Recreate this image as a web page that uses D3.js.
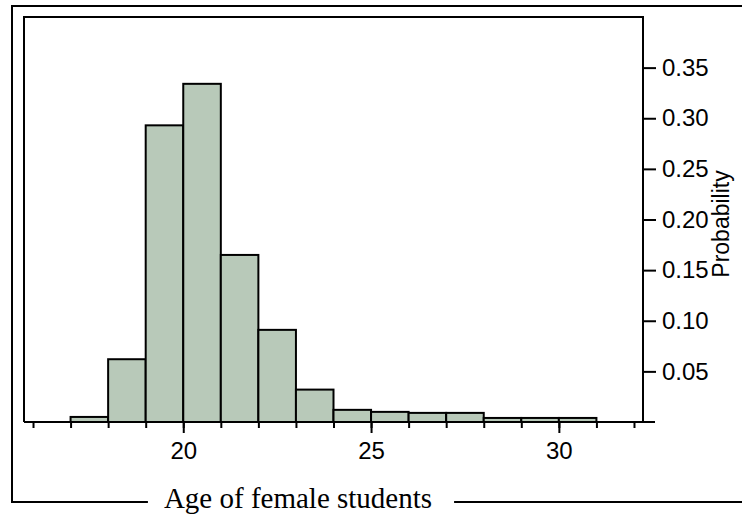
<!DOCTYPE html>
<html>
<head>
<meta charset="utf-8">
<script src="https://cdn.jsdelivr.net/npm/d3@7"></script>
<style>
  body { margin: 0; background: #fff; }
  svg { display: block; }
</style>
</head>
<body>
<svg id="chart"></svg>
<script>
// Histogram data: one-year bins starting at each age
const binStarts = [17, 18, 19, 20, 21, 22, 23, 24, 25, 26, 27, 28, 29, 30];
const probability = [0.005, 0.062, 0.293, 0.334, 0.165, 0.091, 0.032, 0.012, 0.010, 0.009, 0.009, 0.004, 0.004, 0.004];

// Axis ticks
const xMinorTicks = [16, 17, 18, 19, 20, 21, 22, 23, 24, 25, 26, 27, 28, 29, 30, 31, 32];
const xMajorTicks = [20, 25, 30];
const yTicks = [0.05, 0.10, 0.15, 0.20, 0.25, 0.30, 0.35];

const width = 742;
const height = 516;

const svg = d3.select('#chart')
    .attr('width', width)
    .attr('height', height);

const x = d3.scaleLinear().domain([15.76, 32.24]).range([24, 643]);
const y = d3.scaleLinear().domain([0, 0.4]).range([422, 17]);

// Bars
svg.append('g')
    .selectAll('rect')
    .data(binStarts)
    .join('rect')
    .attr('x', d => x(d))
    .attr('y', (d, i) => y(probability[i]))
    .attr('width', d => x(d + 1) - x(d))
    .attr('height', (d, i) => y(0) - y(probability[i]))
    .attr('fill', '#b8c9b9')
    .attr('stroke', '#000')
    .attr('stroke-width', 2);

// Plot frame (top, left, right) and the x axis line
const [x0, x1] = x.range();
const [yb, yt] = y.range();
svg.append('path')
    .attr('d', `M${x0},${yb} V${yt} H${x1} V${yb}`)
    .attr('fill', 'none')
    .attr('stroke', '#000')
    .attr('stroke-width', 2);
svg.append('line')
    .attr('x1', x0).attr('x2', x1 + 12)
    .attr('y1', yb).attr('y2', yb)
    .attr('stroke', '#000')
    .attr('stroke-width', 2);

// x ticks: minor and major
const xMinor = svg.append('g')
    .attr('transform', `translate(0,${yb})`)
    .call(d3.axisBottom(x).tickValues(xMinorTicks).tickSize(6).tickFormat(''));
const xMajor = svg.append('g')
    .attr('transform', `translate(0,${yb})`)
    .call(d3.axisBottom(x).tickValues(xMajorTicks).tickSize(11).tickPadding(9).tickFormat(d3.format('d')));

// y axis on the right
const yAxis = svg.append('g')
    .attr('transform', `translate(${x1},0)`)
    .call(d3.axisRight(y).tickValues(yTicks).tickSize(13).tickPadding(6).tickFormat(d3.format('.2f')));

[xMinor, xMajor, yAxis].forEach(g => {
    g.select('.domain').remove();
    g.selectAll('.tick line').attr('stroke', '#000').attr('stroke-width', 2);
    g.selectAll('.tick text')
        .attr('fill', '#000')
        .style('font-family', 'Arial, "Liberation Sans", sans-serif')
        .style('font-size', '24px');
});

// y label
svg.append('text')
    .attr('transform', 'translate(729,224) rotate(-90)')
    .attr('text-anchor', 'middle')
    .style('font-family', 'Arial, "Liberation Sans", sans-serif')
    .style('font-size', '23px')
    .text('Probability');

// Outer frame with the x label sitting in the bottom line
const title = svg.append('text')
    .attr('x', 298)
    .attr('y', 508)
    .attr('text-anchor', 'middle')
    .style('font-family', '"Times New Roman", "Liberation Serif", serif')
    .style('font-size', '29px')
    .text('Age of female students');

const tw = title.node().getComputedTextLength();
const gapL = 298 - tw / 2 - 16;
const gapR = 298 + tw / 2 + 22;

svg.append('path')
    .attr('d', `M${width},6 H12 V502 H${gapL} M${gapR},502 H${width}`)
    .attr('fill', 'none')
    .attr('stroke', '#000')
    .attr('stroke-width', 2);
</script>
</body>
</html>
